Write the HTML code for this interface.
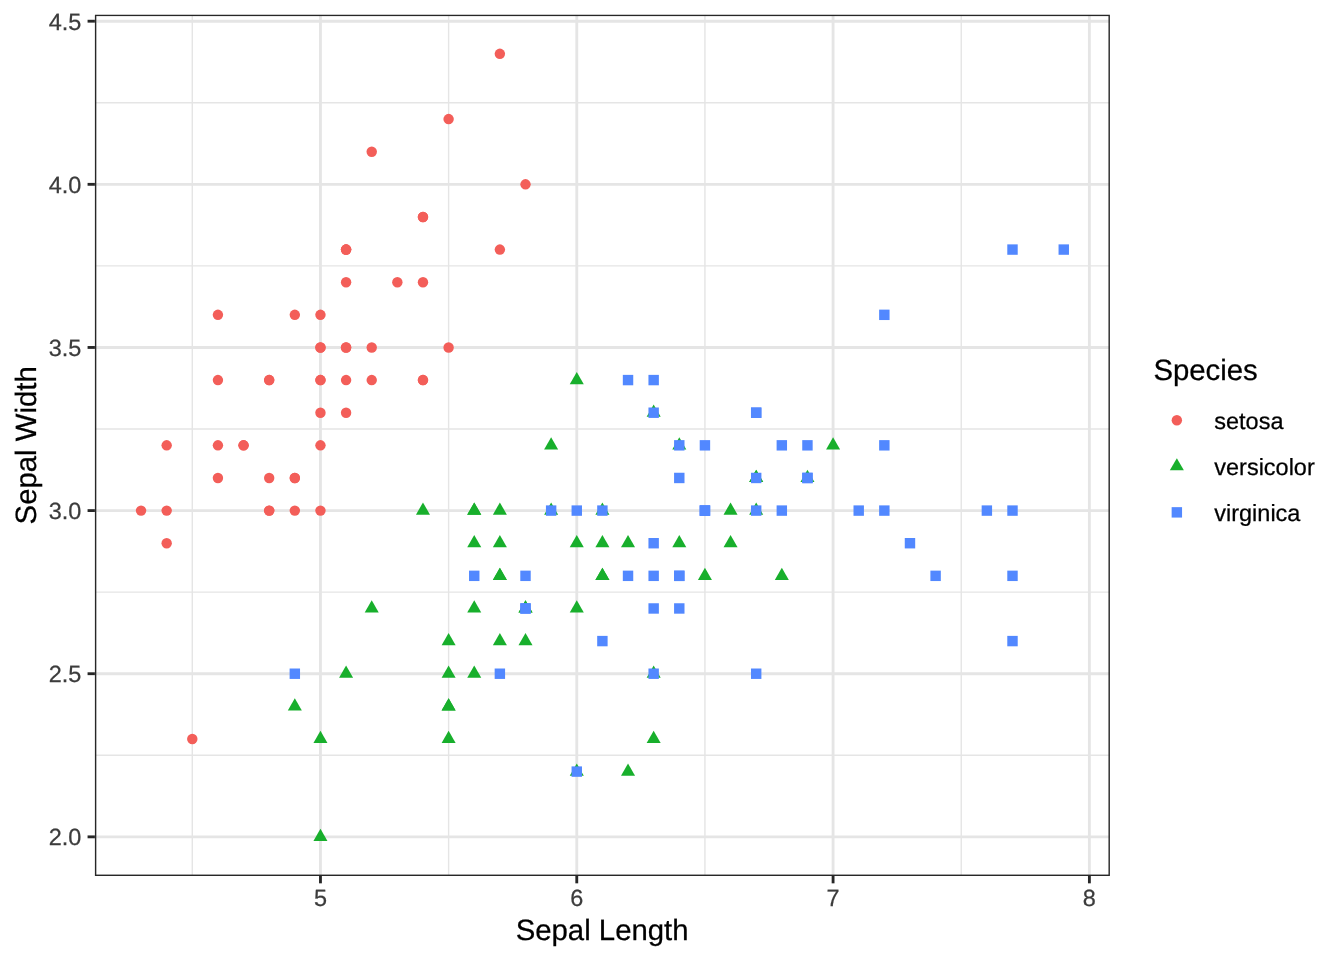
<!DOCTYPE html>
<html><head><meta charset="utf-8"><title>Iris scatter</title>
<style>html,body{margin:0;padding:0;background:#fff}body{width:1344px;height:960px;overflow:hidden;font-family:"Liberation Sans",sans-serif}svg{display:block;will-change:transform}text{text-rendering:geometricPrecision}</style>
</head><body>
<svg width="1344" height="960" viewBox="0 0 1344 960">
<rect width="1344" height="960" fill="#fff"/>
<defs><clipPath id="p"><rect x="94.9" y="14.67" width="1015" height="861.33"/></clipPath></defs>
<g clip-path="url(#p)">
<g stroke="#E5E5E5" stroke-width="1.42" fill="none">
<path d="M94.9 755.28H1109.9"/>
<path d="M94.9 592.15H1109.9"/>
<path d="M94.9 429.02H1109.9"/>
<path d="M94.9 265.89H1109.9"/>
<path d="M94.9 102.76H1109.9"/>
<path d="M192.3 14.67V876"/>
<path d="M448.61 14.67V876"/>
<path d="M704.93 14.67V876"/>
<path d="M961.24 14.67V876"/>
</g>
<g stroke="#E5E5E5" stroke-width="2.85" fill="none">
<path d="M94.9 836.85H1109.9"/>
<path d="M94.9 673.72H1109.9"/>
<path d="M94.9 510.59H1109.9"/>
<path d="M94.9 347.46H1109.9"/>
<path d="M94.9 184.33H1109.9"/>
<path d="M94.9 21.2H1109.9"/>
<path d="M320.46 14.67V876"/>
<path d="M576.77 14.67V876"/>
<path d="M833.08 14.67V876"/>
<path d="M1089.39 14.67V876"/>
</g>
<g fill="#F35E59">
<circle cx="346.09" cy="347.46" r="5.21"/>
<circle cx="294.82" cy="510.59" r="5.21"/>
<circle cx="243.56" cy="445.33" r="5.21"/>
<circle cx="217.93" cy="477.96" r="5.21"/>
<circle cx="320.46" cy="314.83" r="5.21"/>
<circle cx="422.98" cy="216.95" r="5.21"/>
<circle cx="217.93" cy="380.08" r="5.21"/>
<circle cx="320.46" cy="380.08" r="5.21"/>
<circle cx="166.67" cy="543.21" r="5.21"/>
<circle cx="294.82" cy="477.96" r="5.21"/>
<circle cx="422.98" cy="282.2" r="5.21"/>
<circle cx="269.19" cy="380.08" r="5.21"/>
<circle cx="269.19" cy="510.59" r="5.21"/>
<circle cx="141.04" cy="510.59" r="5.21"/>
<circle cx="525.51" cy="184.33" r="5.21"/>
<circle cx="499.87" cy="53.82" r="5.21"/>
<circle cx="422.98" cy="216.95" r="5.21"/>
<circle cx="346.09" cy="347.46" r="5.21"/>
<circle cx="499.87" cy="249.58" r="5.21"/>
<circle cx="346.09" cy="249.58" r="5.21"/>
<circle cx="422.98" cy="380.08" r="5.21"/>
<circle cx="346.09" cy="282.2" r="5.21"/>
<circle cx="217.93" cy="314.83" r="5.21"/>
<circle cx="346.09" cy="412.71" r="5.21"/>
<circle cx="269.19" cy="380.08" r="5.21"/>
<circle cx="320.46" cy="510.59" r="5.21"/>
<circle cx="320.46" cy="380.08" r="5.21"/>
<circle cx="371.72" cy="347.46" r="5.21"/>
<circle cx="371.72" cy="380.08" r="5.21"/>
<circle cx="243.56" cy="445.33" r="5.21"/>
<circle cx="269.19" cy="477.96" r="5.21"/>
<circle cx="422.98" cy="380.08" r="5.21"/>
<circle cx="371.72" cy="151.7" r="5.21"/>
<circle cx="448.61" cy="119.07" r="5.21"/>
<circle cx="294.82" cy="477.96" r="5.21"/>
<circle cx="320.46" cy="445.33" r="5.21"/>
<circle cx="448.61" cy="347.46" r="5.21"/>
<circle cx="294.82" cy="314.83" r="5.21"/>
<circle cx="166.67" cy="510.59" r="5.21"/>
<circle cx="346.09" cy="380.08" r="5.21"/>
<circle cx="320.46" cy="347.46" r="5.21"/>
<circle cx="192.3" cy="738.97" r="5.21"/>
<circle cx="166.67" cy="445.33" r="5.21"/>
<circle cx="320.46" cy="347.46" r="5.21"/>
<circle cx="346.09" cy="249.58" r="5.21"/>
<circle cx="269.19" cy="510.59" r="5.21"/>
<circle cx="346.09" cy="249.58" r="5.21"/>
<circle cx="217.93" cy="445.33" r="5.21"/>
<circle cx="397.35" cy="282.2" r="5.21"/>
<circle cx="320.46" cy="412.71" r="5.21"/>
</g>
<g fill="#18AF2C">
<path d="M833.08 437.23L840.1 449.39H826.07Z"/>
<path d="M679.29 437.23L686.31 449.39H672.28Z"/>
<path d="M807.45 469.86L814.47 482.01H800.43Z"/>
<path d="M448.61 730.87L455.63 743.02H441.6Z"/>
<path d="M704.93 567.74L711.94 579.89H697.91Z"/>
<path d="M499.87 567.74L506.89 579.89H492.86Z"/>
<path d="M653.66 404.61L660.68 416.76H646.65Z"/>
<path d="M294.82 698.24L301.84 710.4H287.81Z"/>
<path d="M730.56 535.11L737.57 547.26H723.54Z"/>
<path d="M371.72 600.36L378.73 612.52H364.7Z"/>
<path d="M320.46 828.75L327.47 840.9H313.44Z"/>
<path d="M551.14 502.49L558.15 514.64H544.12Z"/>
<path d="M576.77 763.49L583.79 775.65H569.75Z"/>
<path d="M602.4 535.11L609.42 547.26H595.38Z"/>
<path d="M474.24 535.11L481.26 547.26H467.23Z"/>
<path d="M756.19 469.86L763.2 482.01H749.17Z"/>
<path d="M474.24 502.49L481.26 514.64H467.23Z"/>
<path d="M525.51 600.36L532.52 612.52H518.49Z"/>
<path d="M628.03 763.49L635.05 775.65H621.01Z"/>
<path d="M474.24 665.62L481.26 677.77H467.23Z"/>
<path d="M551.14 437.23L558.15 449.39H544.12Z"/>
<path d="M602.4 567.74L609.42 579.89H595.38Z"/>
<path d="M653.66 665.62L660.68 677.77H646.65Z"/>
<path d="M602.4 567.74L609.42 579.89H595.38Z"/>
<path d="M679.29 535.11L686.31 547.26H672.28Z"/>
<path d="M730.56 502.49L737.57 514.64H723.54Z"/>
<path d="M781.82 567.74L788.84 579.89H774.8Z"/>
<path d="M756.19 502.49L763.2 514.64H749.17Z"/>
<path d="M576.77 535.11L583.79 547.26H569.75Z"/>
<path d="M499.87 632.99L506.89 645.14H492.86Z"/>
<path d="M448.61 698.24L455.63 710.4H441.6Z"/>
<path d="M448.61 698.24L455.63 710.4H441.6Z"/>
<path d="M525.51 600.36L532.52 612.52H518.49Z"/>
<path d="M576.77 600.36L583.79 612.52H569.75Z"/>
<path d="M422.98 502.49L430 514.64H415.96Z"/>
<path d="M576.77 371.98L583.79 384.13H569.75Z"/>
<path d="M756.19 469.86L763.2 482.01H749.17Z"/>
<path d="M653.66 730.87L660.68 743.02H646.65Z"/>
<path d="M474.24 502.49L481.26 514.64H467.23Z"/>
<path d="M448.61 665.62L455.63 677.77H441.6Z"/>
<path d="M448.61 632.99L455.63 645.14H441.6Z"/>
<path d="M602.4 502.49L609.42 514.64H595.38Z"/>
<path d="M525.51 632.99L532.52 645.14H518.49Z"/>
<path d="M320.46 730.87L327.47 743.02H313.44Z"/>
<path d="M474.24 600.36L481.26 612.52H467.23Z"/>
<path d="M499.87 502.49L506.89 514.64H492.86Z"/>
<path d="M499.87 535.11L506.89 547.26H492.86Z"/>
<path d="M628.03 535.11L635.05 547.26H621.01Z"/>
<path d="M346.09 665.62L353.1 677.77H339.07Z"/>
<path d="M499.87 567.74L506.89 579.89H492.86Z"/>
</g>
<g fill="#5288FF">
<rect x="648.45" y="407.5" width="10.42" height="10.42"/>
<rect x="520.3" y="603.26" width="10.42" height="10.42"/>
<rect x="853.5" y="505.38" width="10.42" height="10.42"/>
<rect x="648.45" y="538" width="10.42" height="10.42"/>
<rect x="699.72" y="505.38" width="10.42" height="10.42"/>
<rect x="981.66" y="505.38" width="10.42" height="10.42"/>
<rect x="289.61" y="668.51" width="10.42" height="10.42"/>
<rect x="904.77" y="538" width="10.42" height="10.42"/>
<rect x="750.98" y="668.51" width="10.42" height="10.42"/>
<rect x="879.13" y="309.62" width="10.42" height="10.42"/>
<rect x="699.72" y="440.12" width="10.42" height="10.42"/>
<rect x="674.08" y="603.26" width="10.42" height="10.42"/>
<rect x="776.61" y="505.38" width="10.42" height="10.42"/>
<rect x="494.66" y="668.51" width="10.42" height="10.42"/>
<rect x="520.3" y="570.63" width="10.42" height="10.42"/>
<rect x="674.08" y="440.12" width="10.42" height="10.42"/>
<rect x="699.72" y="505.38" width="10.42" height="10.42"/>
<rect x="1007.29" y="244.37" width="10.42" height="10.42"/>
<rect x="1007.29" y="635.88" width="10.42" height="10.42"/>
<rect x="571.56" y="766.39" width="10.42" height="10.42"/>
<rect x="802.24" y="440.12" width="10.42" height="10.42"/>
<rect x="469.03" y="570.63" width="10.42" height="10.42"/>
<rect x="1007.29" y="570.63" width="10.42" height="10.42"/>
<rect x="648.45" y="603.26" width="10.42" height="10.42"/>
<rect x="750.98" y="407.5" width="10.42" height="10.42"/>
<rect x="879.13" y="440.12" width="10.42" height="10.42"/>
<rect x="622.82" y="570.63" width="10.42" height="10.42"/>
<rect x="597.19" y="505.38" width="10.42" height="10.42"/>
<rect x="674.08" y="570.63" width="10.42" height="10.42"/>
<rect x="879.13" y="505.38" width="10.42" height="10.42"/>
<rect x="930.4" y="570.63" width="10.42" height="10.42"/>
<rect x="1058.55" y="244.37" width="10.42" height="10.42"/>
<rect x="674.08" y="570.63" width="10.42" height="10.42"/>
<rect x="648.45" y="570.63" width="10.42" height="10.42"/>
<rect x="597.19" y="635.88" width="10.42" height="10.42"/>
<rect x="1007.29" y="505.38" width="10.42" height="10.42"/>
<rect x="648.45" y="374.87" width="10.42" height="10.42"/>
<rect x="674.08" y="472.75" width="10.42" height="10.42"/>
<rect x="571.56" y="505.38" width="10.42" height="10.42"/>
<rect x="802.24" y="472.75" width="10.42" height="10.42"/>
<rect x="750.98" y="472.75" width="10.42" height="10.42"/>
<rect x="802.24" y="472.75" width="10.42" height="10.42"/>
<rect x="520.3" y="603.26" width="10.42" height="10.42"/>
<rect x="776.61" y="440.12" width="10.42" height="10.42"/>
<rect x="750.98" y="407.5" width="10.42" height="10.42"/>
<rect x="750.98" y="505.38" width="10.42" height="10.42"/>
<rect x="648.45" y="668.51" width="10.42" height="10.42"/>
<rect x="699.72" y="505.38" width="10.42" height="10.42"/>
<rect x="622.82" y="374.87" width="10.42" height="10.42"/>
<rect x="545.93" y="505.38" width="10.42" height="10.42"/>
</g>
<rect x="94.9" y="14.67" width="1015" height="861.33" fill="none" stroke="#272727" stroke-width="2.85"/>
</g>
<g stroke="#272727" stroke-width="2.85" fill="none">
<path d="M87.57 836.85H94.9"/>
<path d="M87.57 673.72H94.9"/>
<path d="M87.57 510.59H94.9"/>
<path d="M87.57 347.46H94.9"/>
<path d="M87.57 184.33H94.9"/>
<path d="M87.57 21.2H94.9"/>
<path d="M320.46 876V883.33"/>
<path d="M576.77 876V883.33"/>
<path d="M833.08 876V883.33"/>
<path d="M1089.39 876V883.33"/>
</g>
<g font-family="Liberation Sans, sans-serif" font-size="23.47" fill="#3C3C3C" stroke="#3C3C3C" stroke-width="0.25">
<text x="81.4" y="845.15" text-anchor="end">2.0</text>
<text x="81.4" y="682.02" text-anchor="end">2.5</text>
<text x="81.4" y="518.89" text-anchor="end">3.0</text>
<text x="81.4" y="355.76" text-anchor="end">3.5</text>
<text x="81.4" y="192.63" text-anchor="end">4.0</text>
<text x="81.4" y="29.5" text-anchor="end">4.5</text>
<text x="320.46" y="905.9" text-anchor="middle">5</text>
<text x="576.77" y="905.9" text-anchor="middle">6</text>
<text x="833.08" y="905.9" text-anchor="middle">7</text>
<text x="1089.39" y="905.9" text-anchor="middle">8</text>
</g>
<g font-family="Liberation Sans, sans-serif" fill="#000" stroke="#000" stroke-width="0.25">
<text x="602.1" y="939.6" font-size="29.33" text-anchor="middle">Sepal Length</text>
<text transform="translate(35.8 445.33) rotate(-90)" font-size="29.33" text-anchor="middle">Sepal Width</text>
<text x="1153.4" y="379.9" font-size="29.33">Species</text>
<text x="1214.3" y="428.5" font-size="23.47">setosa</text>
<text x="1214.3" y="474.58" font-size="23.47">versicolor</text>
<text x="1214.3" y="520.66" font-size="23.47">virginica</text>
</g>
<g fill="#F35E59"><circle cx="1176.85" cy="420.2" r="5.21"/></g>
<g fill="#18AF2C"><path d="M1176.85 458.18L1183.87 470.33H1169.83Z"/></g>
<g fill="#5288FF"><rect x="1171.64" y="507.15" width="10.42" height="10.42"/></g>
</svg>
</body></html>
